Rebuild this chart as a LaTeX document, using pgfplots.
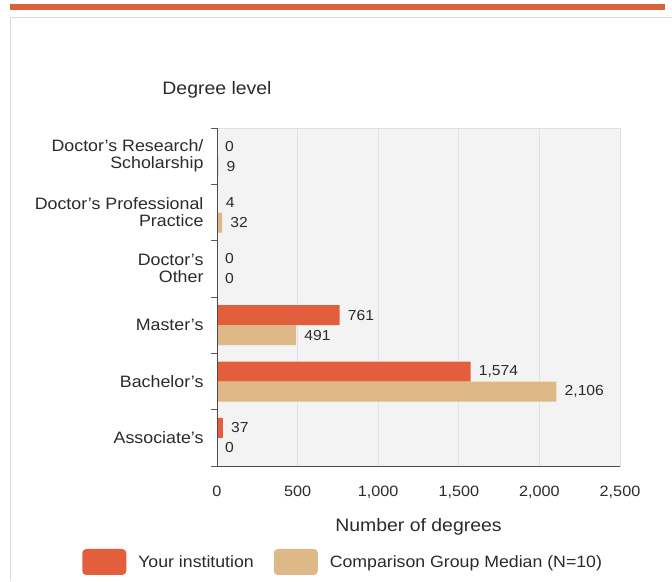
\documentclass[border=0pt]{standalone}
\usepackage{fontspec}
\setmainfont{Liberation Sans}[FakeStretch=1.08]
\usepackage{pgfplots}
\pgfplotsset{compat=1.18}
\definecolor{instred}{HTML}{E25E3C}
\definecolor{medbeige}{HTML}{DEB887}
\definecolor{strip}{HTML}{D9623D}
\definecolor{txt}{HTML}{2B2B2B}
\definecolor{gridblue}{HTML}{DCE3EF}
\definecolor{plotbg}{HTML}{F3F3F3}

\begin{document}
\begin{tikzpicture}
\path[use as bounding box] (0pt,0pt) rectangle (672pt,-581pt);
\fill[white] (0pt,0pt) rectangle (672pt,-581pt);
\fill[strip] (10pt,-4pt) rectangle (665pt,-9.5pt);
\draw[black!15, line width=1pt] (10pt,-581pt) -- (10pt,-17pt) -- (672pt,-17pt);

\begin{axis}[
    at={(217pt,-466pt)}, anchor=south west,
    scale only axis, width=403pt, height=338pt,
    xbar, bar width=20pt,
    xmin=0, xmax=2500, ymin=-0.5, ymax=5.5,
    axis background/.style={fill=plotbg},
    axis line style={draw=black!12},
    xtick={0,500,...,2500},
    ytick={0,...,5},
    yticklabels={Associate's, Bachelor's, Master's, Doctor's\\Other,
                 Doctor's Professional\\Practice, Doctor's Research/\\Scholarship},
    yticklabel style={align=right, font=\fontsize{16.5}{17}\selectfont, text=txt, xshift=-10pt},
    xticklabel style={font=\fontsize{15}{17}\selectfont, text=txt, yshift=-16pt},
    major tick length=0pt,
    xtick pos=bottom, ytick pos=left,
    extra y ticks={-0.5,0.5,...,5.5},
    extra y tick labels={},
    extra y tick style={major tick length=6pt, tick align=outside,
        major tick style={draw=black!65, line width=0.8pt}, grid=none},
    xmajorgrids, grid style={color=gridblue, line width=0.8pt},
    xlabel={Number of degrees},
    xlabel style={font=\fontsize{18}{20}\selectfont, text=txt, yshift=-14pt},
    /pgf/number format/.cd, 1000 sep={,}, assume math mode=true, /pgfplots/.cd,
    nodes near coords,
    nodes near coords style={font=\fontsize{14.5}{16}\selectfont, text=txt,
        inner sep=0pt, anchor=west, xshift=8pt},
    legend image code/.code={%
        \fill[#1, draw=none, rounded corners=4pt] (0pt,-13pt) rectangle (44pt,13pt);
    },
    legend style={at={(0.313,-0.284)}, anchor=center, draw=none, fill=none,
        legend columns=2, font=\fontsize{16.4}{19}\selectfont, text=txt,
        /tikz/every even column/.append style={column sep=18pt},
        /tikz/every odd column/.append style={column sep=10pt}},
    legend cell align=left,
    clip=false,
]
\addplot[fill=instred, draw=none, bar shift=10pt] coordinates {
    (37,0) (1574,1) (761,2) (0,3) (4,4) (0,5)
};
\addplot[fill=medbeige, draw=none, bar shift=-10pt] coordinates {
    (0,0) (2106,1) (491,2) (0,3) (32,4) (9,5)
};
\draw[black!70, line width=0.8pt] (rel axis cs:0,0) -- (rel axis cs:0,1);
\draw[black!70, line width=0.8pt] (rel axis cs:0,0) -- (rel axis cs:1,0);
\legend{Your institution, Comparison Group Median (N=10)}
\end{axis}

\node[font=\fontsize{18}{20}\selectfont, text=txt] at (217pt,-90pt) {Degree level};
\end{tikzpicture}
\end{document}
